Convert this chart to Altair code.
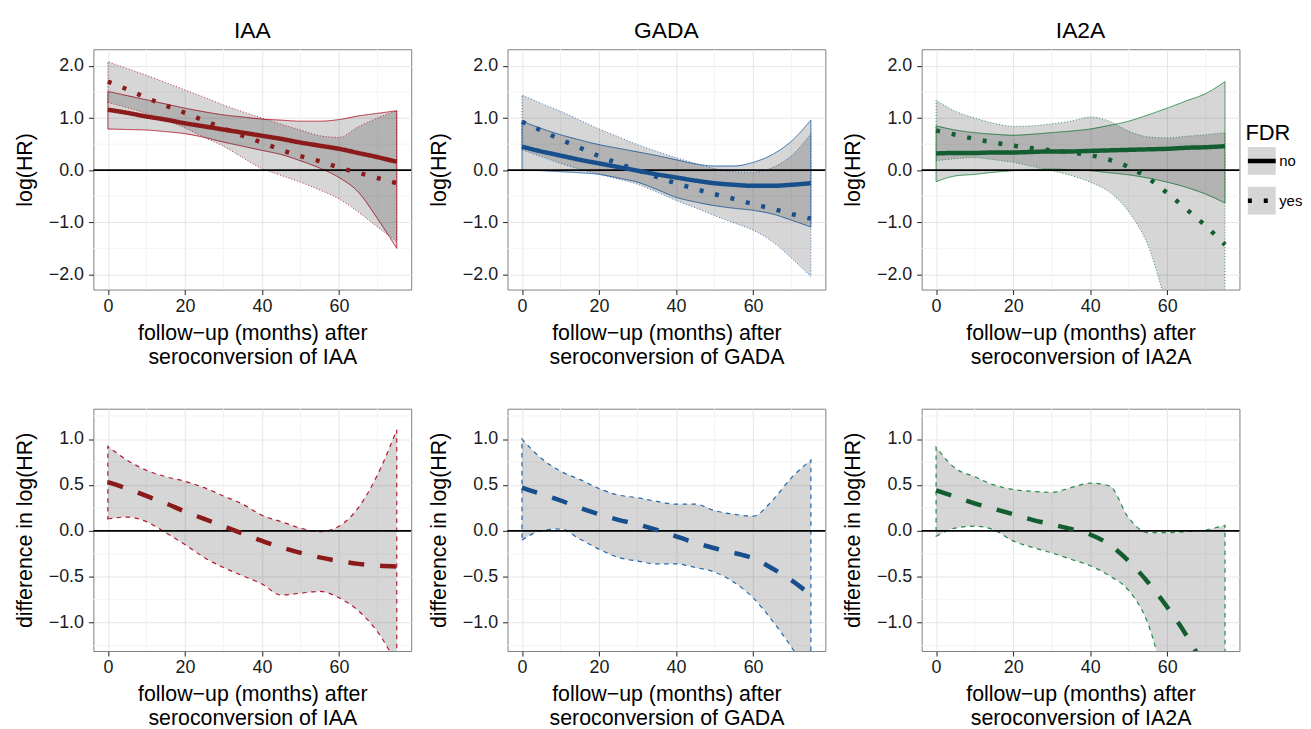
import altair as alt
import pandas as pd

# ---------------- data ----------------
MONTHS = [0, 5, 10, 15, 20, 25, 30, 35, 40, 45, 50, 55, 60, 65, 70, 75]
FDR_LEVELS = ["no", "yes"]

# top row: log(HR)
IAA_NO_MEAN = [1.16, 1.10, 1.03, 0.97, 0.90, 0.84, 0.78, 0.72, 0.66, 0.60, 0.53, 0.47, 0.41, 0.33, 0.25, 0.16]
IAA_NO_LO = [0.79, 0.78, 0.77, 0.74, 0.70, 0.63, 0.54, 0.46, 0.38, 0.30, 0.18, 0.04, -0.14, -0.42, -0.93, -1.50]
IAA_NO_HI = [1.51, 1.43, 1.35, 1.27, 1.19, 1.12, 1.06, 1.02, 0.98, 0.96, 0.94, 0.94, 0.97, 1.04, 1.09, 1.14]
IAA_YES_MEAN = [1.70, 1.55, 1.39, 1.24, 1.10, 0.95, 0.80, 0.66, 0.53, 0.39, 0.27, 0.17, 0.05, -0.05, -0.15, -0.25]
IAA_YES_LO = [1.30, 1.20, 1.09, 0.96, 0.81, 0.63, 0.46, 0.24, 0.03, -0.10, -0.23, -0.38, -0.55, -0.80, -1.09, -1.37]
IAA_YES_HI = [2.08, 1.95, 1.82, 1.68, 1.54, 1.40, 1.25, 1.12, 1.00, 0.88, 0.77, 0.66, 0.63, 0.83, 1.00, 1.14]

GADA_NO_MEAN = [0.45, 0.36, 0.28, 0.20, 0.13, 0.06, -0.01, -0.08, -0.14, -0.20, -0.25, -0.28, -0.30, -0.30, -0.28, -0.25]
GADA_NO_LO = [0.00, -0.01, -0.03, -0.05, -0.08, -0.15, -0.23, -0.37, -0.52, -0.61, -0.68, -0.73, -0.77, -0.84, -0.96, -1.09]
GADA_NO_HI = [0.94, 0.80, 0.68, 0.58, 0.49, 0.42, 0.35, 0.28, 0.20, 0.12, 0.08, 0.08, 0.15, 0.30, 0.56, 0.96]
GADA_YES_MEAN = [0.93, 0.76, 0.59, 0.43, 0.27, 0.13, 0.00, -0.13, -0.25, -0.36, -0.46, -0.55, -0.65, -0.74, -0.84, -0.93]
GADA_YES_LO = [0.39, 0.26, 0.13, 0.02, -0.08, -0.17, -0.27, -0.42, -0.58, -0.72, -0.87, -1.01, -1.15, -1.37, -1.69, -2.04]
GADA_YES_HI = [1.44, 1.28, 1.13, 0.96, 0.79, 0.64, 0.49, 0.36, 0.24, 0.13, 0.03, -0.03, -0.04, 0.05, 0.28, 0.70]

IA2A_NO_MEAN = [0.32, 0.33, 0.33, 0.34, 0.34, 0.35, 0.36, 0.36, 0.37, 0.38, 0.39, 0.40, 0.41, 0.43, 0.44, 0.46]
IA2A_NO_LO = [-0.22, -0.11, -0.08, -0.04, -0.01, 0.01, 0.02, 0.01, -0.01, -0.05, -0.09, -0.15, -0.23, -0.33, -0.46, -0.63]
IA2A_NO_HI = [0.85, 0.77, 0.72, 0.69, 0.67, 0.69, 0.72, 0.75, 0.79, 0.86, 0.94, 1.06, 1.19, 1.33, 1.47, 1.70]
IA2A_YES_MEAN = [0.76, 0.68, 0.60, 0.53, 0.47, 0.42, 0.38, 0.34, 0.29, 0.20, 0.06, -0.15, -0.44, -0.75, -1.07, -1.43]
IA2A_YES_LO = [0.18, 0.22, 0.24, 0.20, 0.15, 0.07, -0.01, -0.10, -0.23, -0.42, -0.80, -1.44, -2.60, -3.50, -4.50, -5.50]
IA2A_YES_HI = [1.34, 1.13, 1.00, 0.90, 0.84, 0.85, 0.89, 0.94, 1.02, 0.94, 0.75, 0.64, 0.62, 0.65, 0.68, 0.72]

# bottom row: difference in log(HR)
IAA_DIFF = [0.53, 0.46, 0.38, 0.30, 0.21, 0.13, 0.05, -0.03, -0.11, -0.18, -0.24, -0.29, -0.33, -0.36, -0.38, -0.39]
IAA_DIFF_LO = [0.13, 0.15, 0.10, -0.02, -0.15, -0.29, -0.40, -0.49, -0.58, -0.70, -0.68, -0.66, -0.73, -0.87, -1.10, -1.45]
IAA_DIFF_HI = [0.92, 0.77, 0.66, 0.59, 0.54, 0.47, 0.38, 0.29, 0.17, 0.10, 0.03, -0.01, 0.05, 0.25, 0.61, 1.10]

GADA_DIFF = [0.47, 0.40, 0.33, 0.25, 0.18, 0.12, 0.07, 0.01, -0.06, -0.13, -0.19, -0.24, -0.30, -0.41, -0.54, -0.70]
GADA_DIFF_LO = [-0.10, 0.00, 0.02, -0.09, -0.20, -0.29, -0.33, -0.36, -0.36, -0.40, -0.45, -0.56, -0.73, -0.98, -1.27, -1.60]
GADA_DIFF_HI = [1.00, 0.79, 0.65, 0.56, 0.46, 0.39, 0.36, 0.32, 0.29, 0.29, 0.22, 0.18, 0.16, 0.33, 0.58, 0.77]

IA2A_DIFF = [0.44, 0.37, 0.30, 0.24, 0.18, 0.12, 0.07, 0.02, -0.04, -0.15, -0.33, -0.56, -0.83, -1.14, -1.50, -1.85]
IA2A_DIFF_LO = [-0.06, 0.03, 0.05, 0.01, -0.11, -0.18, -0.24, -0.31, -0.38, -0.49, -0.65, -1.01, -1.75, -2.50, -3.30, -4.00]
IA2A_DIFF_HI = [0.91, 0.68, 0.59, 0.50, 0.45, 0.43, 0.42, 0.47, 0.52, 0.49, 0.14, -0.02, -0.02, -0.01, 0.01, 0.06]

X_TICKS = [0, 20, 40, 60]
X_MINOR = [10, 30, 50, 70]
TOP_Y_TICKS = [-2.0, -1.0, 0.0, 1.0, 2.0]
TOP_Y_MINOR = [-1.5, -0.5, 0.5, 1.5]
BOT_Y_TICKS = [-1.0, -0.5, 0.0, 0.5, 1.0]
BOT_Y_MINOR = [-1.25, -0.75, -0.25, 0.25, 0.75, 1.25]
ZERO = [0.0]

MARKERS = ["IAA", "GADA", "IA2A"]
MEAN_COLORS = {"IAA": "#8b1a1a", "GADA": "#174f8c", "IA2A": "#135e30"}
CI_COLORS = {"IAA": "#b2182b", "GADA": "#2166ac", "IA2A": "#238b45"}

TOP = {
    "IAA": (IAA_NO_MEAN, IAA_NO_LO, IAA_NO_HI, IAA_YES_MEAN, IAA_YES_LO, IAA_YES_HI),
    "GADA": (GADA_NO_MEAN, GADA_NO_LO, GADA_NO_HI, GADA_YES_MEAN, GADA_YES_LO, GADA_YES_HI),
    "IA2A": (IA2A_NO_MEAN, IA2A_NO_LO, IA2A_NO_HI, IA2A_YES_MEAN, IA2A_YES_LO, IA2A_YES_HI),
}
BOTTOM = {
    "IAA": (IAA_DIFF, IAA_DIFF_LO, IAA_DIFF_HI),
    "GADA": (GADA_DIFF, GADA_DIFF_LO, GADA_DIFF_HI),
    "IA2A": (IA2A_DIFF, IA2A_DIFF_LO, IA2A_DIFF_HI),
}

# ---------------- styling ----------------
FONT = "Liberation Sans"
X_DOMAIN = [-3.75, 78.75]
TOP_Y_DOMAIN = [-2.29, 2.32]
BOT_Y_DOMAIN = [-1.31, 1.33]
W = 320
H_TOP = 242
H_BOT = 244
BAND_OPACITY = 0.16

LX, LY = 1160, 74
# legend key shapes: identical bounds so both legends lay out the same way
KEY_SQUARE = "M-1,-1H1V1H-1Z"
KEY_LINE = "M-1,-1M-1,0H1M1,1"


def x_axis(marker):
    return alt.Axis(
        values=X_TICKS, format="d",
        title=["follow\u2212up (months) after", "seroconversion of " + marker],
    )


def y_axis(title, ticks):
    return alt.Axis(values=ticks, format=".1f", title=title)


def enc_x(field, marker):
    return alt.X(field, type="quantitative", scale=alt.Scale(domain=X_DOMAIN, nice=False, zero=False),
                 axis=x_axis(marker))


def enc_y(field, marker, top):
    dom = TOP_Y_DOMAIN if top else BOT_Y_DOMAIN
    ticks = TOP_Y_TICKS if top else BOT_Y_TICKS
    title = "log(HR)" if top else "difference in log(HR)"
    return alt.Y(field, type="quantitative", scale=alt.Scale(domain=dom, nice=False, zero=False),
                 axis=y_axis(title, ticks))


def grid_layers(marker, top):
    minor_y = TOP_Y_MINOR if top else BOT_Y_MINOR
    gx = alt.Chart(pd.DataFrame({"v": X_MINOR})).mark_rule(color="#f4f4f4", strokeWidth=1).encode(
        x=enc_x("v", marker))
    gy = alt.Chart(pd.DataFrame({"v": minor_y})).mark_rule(color="#f4f4f4", strokeWidth=1).encode(
        y=enc_y("v", marker, top))
    return [gx, gy]


def zero_layer(marker, top):
    return alt.Chart(pd.DataFrame({"v": ZERO})).mark_rule(color="black", strokeWidth=1.7).encode(
        y=enc_y("v", marker, top))


LEGEND_COMMON = dict(
    orient="none", legendX=LX, legendY=LY, title="FDR",
    titleFont=FONT, titleFontSize=22, titleFontWeight="normal", titleColor="black", titlePadding=0,
    labelFont=FONT, labelFontSize=15, labelColor="black", labelOffset=1,
    symbolSize=784, rowPadding=-14, symbolStrokeWidth=4.5,
)


def top_panel(marker):
    no_mean, no_lo, no_hi, yes_mean, yes_lo, yes_hi = TOP[marker]
    df = pd.DataFrame({
        "x": MONTHS * 2,
        "mean": no_mean + yes_mean,
        "lo": no_lo + yes_lo,
        "hi": no_hi + yes_hi,
        "FDR": ["no"] * len(MONTHS) + ["yes"] * len(MONTHS),
    })
    col_m, col_c = MEAN_COLORS[marker], CI_COLORS[marker]
    with_legend = marker == "IA2A"

    layers = grid_layers(marker, True)
    for fdr in FDR_LEVELS:
        dash = [1, 0] if fdr == "no" else [1, 2]
        band = alt.Chart(df[df["FDR"] == fdr]).mark_area(
            interpolate="monotone", fillOpacity=BAND_OPACITY, stroke=col_c, strokeWidth=0.9,
            strokeDash=dash, clip=True, **({} if with_legend else {"fill": "black"})
        )
        enc = dict(x=enc_x("x", marker), y=enc_y("lo", marker, True), y2="hi")
        if with_legend:
            # data-driven domain keeps this key-background legend separate from the line legend
            enc["fill"] = alt.Fill(
                "FDR:N", scale=alt.Scale(range=["black", "black"]),
                legend=alt.Legend(
                    symbolType=KEY_SQUARE, symbolStrokeColor="rgba(0,0,0,0)", symbolOpacity=0.16, zindex=0,
                    **LEGEND_COMMON))
        layers.append(band.encode(**enc))
    layers.append(zero_layer(marker, True))

    if with_legend:
        mean = alt.Chart(df).mark_line(color=col_m, strokeWidth=4.5, interpolate="monotone", clip=True).encode(
            x=enc_x("x", marker), y=enc_y("mean", marker, True),
            strokeDash=alt.StrokeDash(
                "FDR:N", scale=alt.Scale(domain=FDR_LEVELS, range=[[1, 0], [4, 12]]),
                legend=alt.Legend(symbolType=KEY_LINE, symbolStrokeColor="black", zindex=1,
                                  **{**LEGEND_COMMON,
                                     "labelColor": "rgba(0,0,0,0)", "titleColor": "rgba(0,0,0,0)"})))
        layers.append(mean)
    else:
        for fdr in FDR_LEVELS:
            dash = [1, 0] if fdr == "no" else [4, 12]
            layers.append(alt.Chart(df[df["FDR"] == fdr]).mark_line(
                color=col_m, strokeWidth=4.5, strokeDash=dash, interpolate="monotone", clip=True).encode(
                x=enc_x("x", marker), y=enc_y("mean", marker, True)))

    return alt.layer(*layers).properties(
        width=W, height=H_TOP,
        title=alt.TitleParams(marker, fontSize=23, font=FONT, fontWeight="normal", anchor="middle", offset=6),
    )


def bottom_panel(marker):
    diff, lo, hi = BOTTOM[marker]
    df = pd.DataFrame({"x": MONTHS, "mean": diff, "lo": lo, "hi": hi})
    col_m, col_c = MEAN_COLORS[marker], CI_COLORS[marker]
    layers = grid_layers(marker, False)
    layers.append(alt.Chart(df).mark_area(
        interpolate="monotone", fill="black", fillOpacity=BAND_OPACITY, stroke=col_c, strokeWidth=1.2,
        strokeDash=[4.5, 4.5], clip=True).encode(
        x=enc_x("x", marker), y=enc_y("lo", marker, False), y2="hi"))
    layers.append(zero_layer(marker, False))
    layers.append(alt.Chart(df).mark_line(
        color=col_m, strokeWidth=4.5, strokeDash=[16, 16], interpolate="monotone", clip=True).encode(
        x=enc_x("x", marker), y=enc_y("mean", marker, False)))
    return alt.layer(*layers).properties(width=W, height=H_BOT)


top_row = alt.hconcat(*[top_panel(m) for m in MARKERS], spacing=14)
bottom_row = alt.hconcat(*[bottom_panel(m) for m in MARKERS], spacing=14)

chart = alt.vconcat(top_row, bottom_row, spacing=40).properties(
    padding={"left": 5, "top": 9, "right": 0, "bottom": 0}
).configure_view(
    stroke="#7f7f7f", strokeWidth=1
).configure_axis(
    labelFont=FONT, labelFontSize=18, labelColor="#1a1a1a",
    titleFont=FONT, titleFontSize=21.5, titleFontWeight="normal", titleColor="black",
    titleLineHeight=24,
    tickSize=5, tickColor="#333333", tickWidth=1.1,
    domain=False, grid=True, gridColor="#e6e6e6", gridWidth=1,
).configure_axisX(
    labelPadding=3, titlePadding=7,
).configure_axisY(
    labelPadding=5, titlePadding=12,
)

chart.save("out.html", embed_options={"renderer": "svg", "actions": False})
